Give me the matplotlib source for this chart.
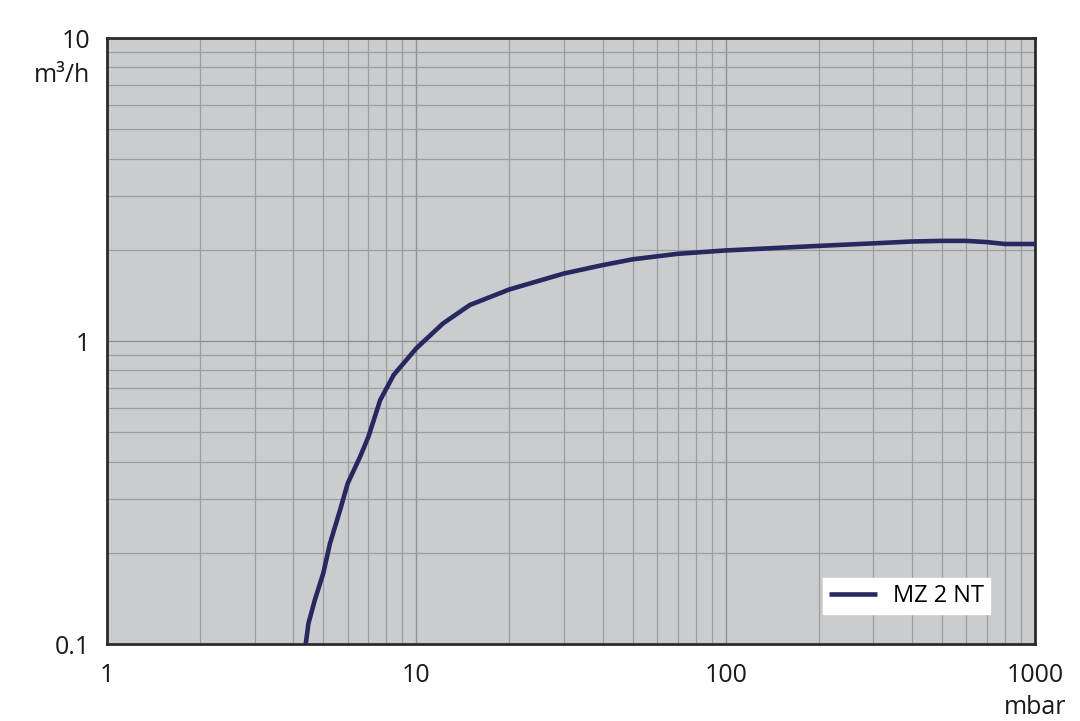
import numpy as np
import matplotlib.pyplot as plt
from matplotlib.ticker import LogLocator, NullFormatter, FixedLocator, FixedFormatter

# pumping speed curve
pressure_mbar = [4.39, 4.48, 4.70, 5.0, 5.26, 5.67, 6.0, 6.58, 7.0, 7.64,
                 8.45, 10.0, 12.2, 14.9, 20.0, 30.0, 40.0, 50.0, 70.0, 100.0,
                 200.0, 300.0, 400.0, 500.0, 600.0, 700.0, 800.0, 1000.0]
speed_m3h = [0.100, 0.117, 0.140, 0.171, 0.215, 0.277, 0.339, 0.415, 0.483,
             0.638, 0.773, 0.946, 1.143, 1.315, 1.48, 1.67, 1.78, 1.86, 1.94,
             1.99, 2.06, 2.10, 2.13, 2.14, 2.14, 2.12, 2.09, 2.09]
series_label = 'MZ 2 NT'

x_ticks = [1, 10, 100, 1000]
x_ticklabels = ['1', '10', '100', '1000']
y_ticks = [0.1, 1, 10]
y_ticklabels = ['0.1', '1', '10']

plt.rcParams['font.family'] = ['Open Sans', 'DejaVu Sans']

fig = plt.figure(figsize=(10.8, 7.21), dpi=100)
ax = fig.add_axes([107 / 1080, 1 - 644 / 721, 928 / 1080, 606 / 721])

ax.set_facecolor('#cbcccf')
ax.plot(pressure_mbar, speed_m3h, color='#26285f', lw=3.3, label=series_label,
        solid_capstyle='butt', solid_joinstyle='round', zorder=3)

ax.set_xscale('log')
ax.set_yscale('log')
ax.set_xlim(1, 1000)
ax.set_ylim(0.1, 10)

ax.xaxis.set_major_locator(FixedLocator(x_ticks))
ax.xaxis.set_major_formatter(FixedFormatter(x_ticklabels))
ax.yaxis.set_major_locator(FixedLocator(y_ticks))
ax.yaxis.set_major_formatter(FixedFormatter(y_ticklabels))
ax.xaxis.set_minor_locator(LogLocator(base=10, subs=np.arange(2, 10)))
ax.yaxis.set_minor_locator(LogLocator(base=10, subs=np.arange(2, 10)))
ax.xaxis.set_minor_formatter(NullFormatter())
ax.yaxis.set_minor_formatter(NullFormatter())

ax.grid(True, which='major', color='#8e8f92', lw=1.0)
ax.grid(True, which='minor', color='#9c9da0', lw=0.9)
ax.set_axisbelow(True)

ax.tick_params(which='both', length=0, labelsize=18, colors='#1a1a1a')
ax.tick_params(axis='x', pad=14)
ax.tick_params(axis='y', pad=12)

for sp in ax.spines.values():
    sp.set_color('#2b2b2b')
    sp.set_linewidth(2)

# unit labels below the end tick labels
ax.text(-17 / 928, 1 - 37 / 606, 'm³/h', transform=ax.transAxes,
        ha='right', va='center', fontsize=18, color='#1a1a1a')
ax.text(1.0, -64 / 606, 'mbar', transform=ax.transAxes,
        ha='center', va='center', fontsize=18, color='#1a1a1a')

leg = ax.legend(loc='lower right', bbox_to_anchor=(1 - 45 / 928, 30 / 606),
                frameon=True, fancybox=False, fontsize=17, handlelength=2.0,
                borderpad=0.25, borderaxespad=0, handletextpad=0.7)
leg.get_frame().set_facecolor('white')
leg.get_frame().set_edgecolor('white')
leg.get_frame().set_alpha(1)

fig.savefig('out.png', dpi=100)
